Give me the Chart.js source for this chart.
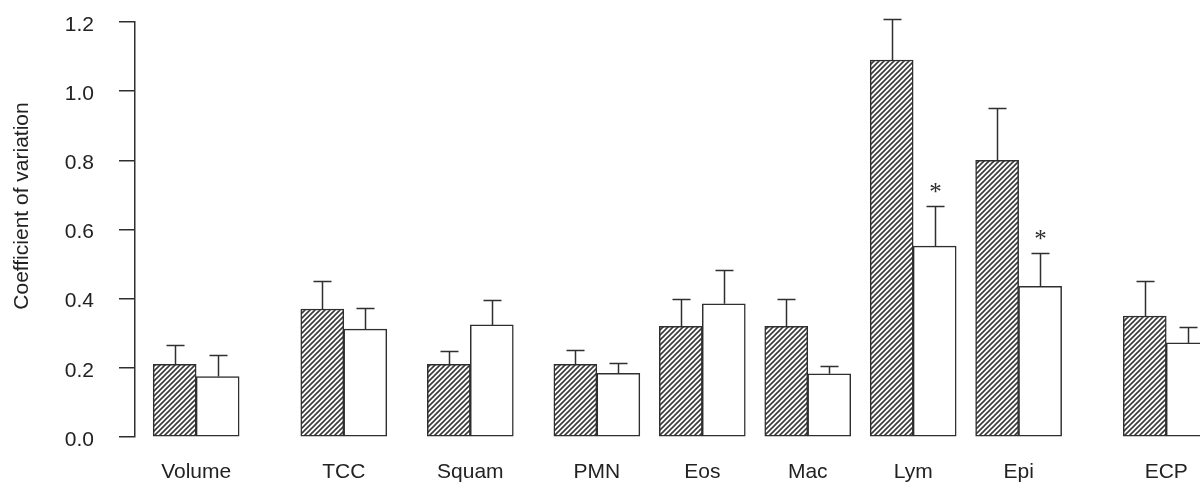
<!DOCTYPE html>
<html>
<head>
<meta charset="utf-8">
<script src="https://cdn.jsdelivr.net/npm/chart.js@4/dist/chart.umd.min.js"></script>
<style>
  html, body { margin: 0; padding: 0; background: #fff; overflow: hidden; }
</style>
</head>
<body>
<canvas id="chart" width="1200" height="482"></canvas>
<script>
const categories = ['Volume', 'TCC', 'Squam', 'PMN', 'Eos', 'Mac', 'Lym', 'Epi', 'ECP'];
const hatchedMean = [0.21, 0.37, 0.21, 0.21, 0.32, 0.32, 1.09, 0.80, 0.35];
const hatchedSD = [0.057, 0.081, 0.039, 0.042, 0.079, 0.080, 0.12, 0.15, 0.10];
const openMean = [0.175, 0.312, 0.324, 0.184, 0.385, 0.183, 0.552, 0.436, 0.272];
const openSD = [0.061, 0.061, 0.072, 0.029, 0.099, 0.022, 0.117, 0.097, 0.045];
const openStar = [false, false, false, false, false, false, true, true, false];
const yTicks = [0, 0.2, 0.4, 0.6, 0.8, 1.0, 1.2];

// the groups are not evenly spaced in the original, so x is a linear axis of slots
const groupSlot = [3, 10, 16, 22, 27, 32, 37, 42, 49];

const ink = '#2f2f2f';
const family = "'Liberation Sans', Arial, sans-serif";
const labelFont = { family: family, size: 21 };

// diagonal hatch fill
function makeHatch() {
    const p = document.createElement('canvas');
    p.width = 5;
    p.height = 5;
    const c = p.getContext('2d');
    c.fillStyle = '#fff';
    c.fillRect(0, 0, 5, 5);
    c.strokeStyle = '#3a3a3a';
    c.lineWidth = 1.6;
    c.beginPath();
    c.moveTo(-1, 6); c.lineTo(6, -1);
    c.moveTo(-1, 1); c.lineTo(1, -1);
    c.moveTo(4, 6); c.lineTo(6, 4);
    c.stroke();
    return c.createPattern(p, 'repeat');
}

const errorBars = {
    id: 'errorBars',
    afterDatasetsDraw(chart) {
        const ctx = chart.ctx;
        const y = chart.scales.y;
        const sds = [hatchedSD, openSD];
        ctx.save();
        ctx.strokeStyle = ink;
        ctx.lineWidth = 1.5;
        ctx.fillStyle = ink;
        ctx.font = "25px 'Liberation Serif', serif";
        ctx.textAlign = 'center';
        ctx.textBaseline = 'middle';
        chart.data.datasets.forEach((ds, di) => {
            chart.getDatasetMeta(di).data.forEach((bar, i) => {
                const top = Math.round(y.getPixelForValue(ds.data[i].y + sds[di][i])) + 0.5;
                const x = Math.round(bar.x) + 0.5;
                ctx.beginPath();
                ctx.moveTo(x, bar.y);
                ctx.lineTo(x, top);
                ctx.moveTo(x - 9, top);
                ctx.lineTo(x + 9, top);
                ctx.stroke();
                if (di === 1 && openStar[i]) {
                    ctx.fillText('*', x, top - 13);
                }
            });
        });
        ctx.restore();
    },
    afterDraw(chart) {
        // y title sits a little above the middle of the axis in the original
        const ctx = chart.ctx;
        ctx.save();
        ctx.translate(22, 206);
        ctx.rotate(-Math.PI / 2);
        ctx.fillStyle = '#222';
        ctx.font = `21px ${family}`;
        ctx.textAlign = 'center';
        ctx.textBaseline = 'middle';
        ctx.fillText('Coefficient of variation', 0, 0);
        ctx.restore();
    }
};

const barStyle = {
    borderColor: ink,
    borderWidth: 1.5,
    borderSkipped: false,
    barThickness: 43
};

new Chart(document.getElementById('chart'), {
    type: 'bar',
    data: {
        datasets: [
            Object.assign({
                data: categories.map((c, i) => ({ x: groupSlot[i], y: hatchedMean[i] })),
                backgroundColor: makeHatch()
            }, barStyle),
            Object.assign({
                data: categories.map((c, i) => ({ x: groupSlot[i], y: openMean[i] })),
                backgroundColor: '#fff'
            }, barStyle)
        ]
    },
    options: {
        responsive: false,
        animation: false,
        layout: { padding: { top: 22, right: 0, bottom: 0, left: 0 } },
        plugins: {
            legend: { display: false },
            tooltip: { enabled: false }
        },
        scales: {
            x: {
                type: 'linear',
                min: 0.1,
                max: 50.6,
                offset: false,
                grid: { display: false, drawTicks: false },
                border: { display: false },
                afterBuildTicks: (s) => { s.ticks = groupSlot.map(v => ({ value: v })); },
                afterFit: (s) => {
                    s.height = 45;
                    s.paddingLeft = 0;
                    s.paddingRight = 0;
                },
                ticks: {
                    autoSkip: false,
                    maxRotation: 0,
                    padding: 23,
                    color: '#222',
                    font: labelFont,
                    callback: (v, i) => categories[i]
                }
            },
            y: {
                min: 0,
                max: 1.2,
                afterBuildTicks: (s) => { s.ticks = yTicks.map(v => ({ value: v })); },
                afterFit: (s) => {
                    s.width = 135;
                    s.paddingTop = 0;
                    s.paddingBottom = 0;
                },
                grid: { drawOnChartArea: false, tickLength: 16, color: ink, lineWidth: 1.5 },
                border: { display: true, color: ink, width: 1.5 },
                ticks: {
                    padding: 25,
                    labelOffset: 3,
                    color: '#222',
                    font: labelFont,
                    callback: (v) => v.toFixed(1)
                }
            }
        }
    },
    plugins: [errorBars]
});
</script>
</body>
</html>
